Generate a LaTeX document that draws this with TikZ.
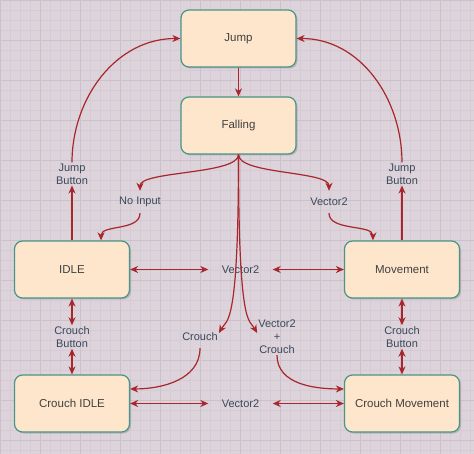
\documentclass[tikz,border=0pt]{standalone}
\usepackage{fontspec}
\setmainfont{Liberation Sans}
\usetikzlibrary{arrows.meta,shadows,calc}
\definecolor{paper}{RGB}{221,211,219}
\definecolor{gridminor}{RGB}{214,203,212}
\definecolor{gridmajor}{RGB}{204,192,202}
\definecolor{boxfill}{RGB}{253,230,203}
\definecolor{boxline}{RGB}{72,150,135}
\definecolor{wire}{RGB}{168,38,44}
\definecolor{ink}{RGB}{64,64,64}
\definecolor{cueink}{RGB}{58,72,90}
\begin{document}
\begin{tikzpicture}[x=1pt,y=-1pt,
  >={Stealth[length=8pt,width=7pt,inset=2.5pt]},
  state/.style={draw=boxline,fill=boxfill,line width=1.2pt,rounded corners=8pt,
    minimum width=115pt,minimum height=57pt,text=ink,font=\fontsize{11.5}{13}\selectfont,
    drop shadow={shadow xshift=1.5pt,shadow yshift=-1.5pt,fill=black!45,opacity=.45}},
  cue/.style={text=cueink,align=center,inner sep=1pt,minimum height=22pt,
    font=\fontsize{11}{13}\selectfont},
  wide/.style={cue,minimum width=64pt},
  go/.style={draw=wire,line width=1.2pt,->},
  both/.style={draw=wire,line width=1.2pt,<->}]
\useasboundingbox (0,0) rectangle (474,454);
\fill[paper] (0,0) rectangle (474,454);
\draw[gridminor,line width=.4pt] (0,454) grid[step=10pt] (474,0);
\draw[gridmajor,line width=.5pt] (0,454) grid[step=40pt] (474,0);
% states
\node[state] (jump) at (238.5,38.5) {Jump};
\node[state] (fall) at (238.5,125.5) {Falling};
\node[state] (idle) at (72,269.5) {IDLE};
\node[state] (move) at (402,269.5) {Movement};
\node[state] (cidle) at (72,403.5) {Crouch IDLE};
\node[state] (cmove) at (402,403.5) {Crouch Movement};
% inputs
\node[cue] (jbl) at (72,174) {Jump\\Button};
\node[cue] (jbr) at (402,174) {Jump\\Button};
\node[cue] (noin) at (140,202) {No Input};
\node[cue] (vec) at (329,202) {Vector2};
\node[wide] (vmid) at (240.5,269.5) {Vector2};
\node[cue] (cbl) at (72,337) {Crouch\\Button};
\node[cue] (cbr) at (402,337) {Crouch\\Button};
\node[cue] (crouch) at (200,337) {Crouch};
\node[cue] (vcr) at (277,337) {Vector2\\+\\Crouch};
\node[wide] (vlow) at (240.5,403.5) {Vector2};
% transitions
\draw[go] (jump) -- (fall);
\draw[go] (idle) -- (jbl);
\draw[go] (jbl.north) to[out=90,in=180] (jump.west);
\draw[go] (move) -- (jbr);
\draw[go] (jbr.north) to[out=90,in=0] (jump.east);
\draw[go] (fall.south) .. controls +(0,20) and +(0,-20) .. (noin.north);
\draw[go] (noin.south) .. controls +(0,18) and +(0,-16) .. ($(idle.north west)!.75!(idle.north east)$);
\draw[go] (fall.south) .. controls +(0,20) and +(0,-20) .. (vec.north);
\draw[go] (vec.south) .. controls +(0,18) and +(0,-16) .. ($(move.north west)!.25!(move.north east)$);
\draw[go] (fall.south) .. controls +(0,175) and +(8,-14) .. ([yshift=4pt]crouch.east);
\draw[go] (fall.south) .. controls +(0,175) and +(-8,-14) .. ([yshift=4pt]vcr.west);
\draw[go] (crouch.south) to[out=-90,in=0] ($(cidle.north east)!.25!(cidle.south east)$);
\draw[go] (vcr.south) to[out=-90,in=180] ($(cmove.north west)!.25!(cmove.south west)$);
\draw[both] (idle) -- (vmid);
\draw[both] (vmid) -- (move);
\draw[both] (idle) -- (cbl);
\draw[both] (cbl) -- (cidle);
\draw[both] (move) -- (cbr);
\draw[both] (cbr) -- (cmove);
\draw[both] (cidle) -- (vlow);
\draw[both] (vlow) -- (cmove);
\end{tikzpicture}
\end{document}
